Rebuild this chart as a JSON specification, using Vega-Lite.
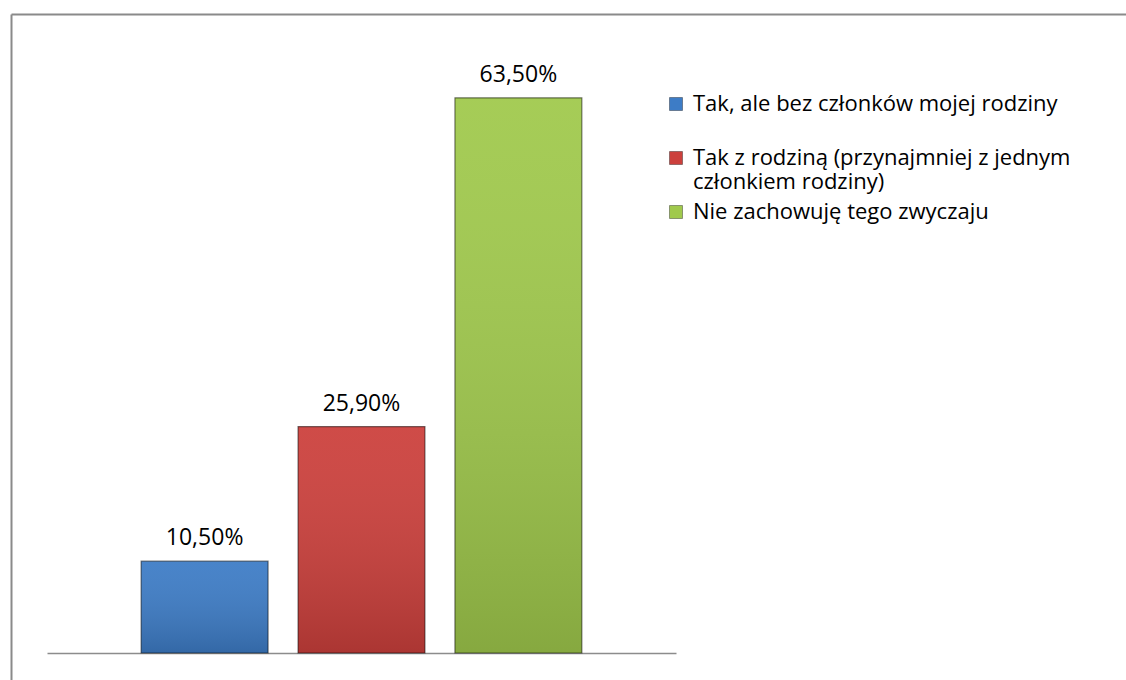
{
  "$schema": "https://vega.github.io/schema/vega-lite/v6.json",
  "width": 1115,
  "height": 666,
  "autosize": {"type": "none"},
  "padding": {"left": 11, "top": 14, "right": 0, "bottom": 0},
  "background": "white",
  "view": {"stroke": "transparent", "strokeWidth": 0, "fill": null},
  "config": {
    "view": {"stroke": "transparent", "strokeWidth": 0},
    "font": "Open Sans",
    "locale": {"number": {"decimal": ",", "thousands": " ", "grouping": [3], "currency": ["", " zł"]}}
  },
  "data": {
    "values": [
      {"odp": "Tak, ale bez członków mojej rodziny", "udzial": 0.105},
      {"odp": "Tak z rodziną (przynajmniej z jednym członkiem rodziny)", "udzial": 0.259},
      {"odp": "Nie zachowuję tego zwyczaju", "udzial": 0.635}
    ]
  },
  "resolve": {"scale": {"x": "independent", "y": "independent"}, "axis": {"x": "independent", "y": "independent"}},
  "layer": [
    {
      "encoding": {
        "x": {
          "field": "odp",
          "type": "nominal",
          "sort": null,
          "scale": {"range": [36, 665], "paddingInner": 0.191, "paddingOuter": 0.6},
          "axis": {"orient": "bottom", "labels": false, "ticks": false, "title": null, "grid": false, "domainColor": "#8c8c8c", "domainWidth": 1.5, "offset": -27}
        },
        "y": {
          "field": "udzial",
          "type": "quantitative",
          "scale": {"domain": [0, 0.7], "range": [639, 27]},
          "axis": null
        }
      },
      "layer": [
        {
          "mark": {"type": "bar"},
          "encoding": {
            "color": {
              "field": "odp",
              "type": "nominal",
              "sort": null,
              "scale": {"range": ["#3d7cc6", "#cc403c", "#a0c94c"]},
              "legend": {
                "title": null,
                "orient": "none",
                "legendX": 654,
                "legendY": 79,
                "padding": 0,
                "symbolType": "square",
                "symbolSize": 169,
                "symbolStrokeColor": "rgba(0,0,0,0.35)",
                "symbolStrokeWidth": 1,
                "labelFont": "Open Sans",
                "labelFontSize": 22,
                "labelColor": "black",
                "labelOffset": 6,
                "labelLimit": 600,
                "rowPadding": 8,
                "labelExpr": "datum.value == 'Tak z rodziną (przynajmniej z jednym członkiem rodziny)' ? ['Tak z rodziną (przynajmniej z jednym', 'członkiem rodziny)'] : datum.value == 'Tak, ale bez członków mojej rodziny' ? ['Tak, ale bez członków mojej rodziny', ' '] : datum.label"
              }
            }
          }
        },
        {
          "mark": {
            "type": "bar",
            "fill": {
              "gradient": "linear",
              "x1": 0, "y1": 0, "x2": 0, "y2": 1,
              "stops": [
                {"offset": 0, "color": "rgba(255,255,255,0.06)"},
                {"offset": 1, "color": "rgba(0,0,0,0.16)"}
              ]
            },
            "stroke": "rgba(0,0,0,0.5)",
            "strokeWidth": 1.2
          }
        },
        {
          "mark": {"type": "text", "baseline": "alphabetic", "dy": -16, "fontSize": 23, "font": "Open Sans", "color": "black"},
          "encoding": {
            "text": {"field": "udzial", "type": "quantitative", "format": ".2%"}
          }
        }
      ]
    },
    {
      "mark": {"type": "point", "opacity": 0},
      "encoding": {
        "x": {
          "field": "udzial",
          "type": "quantitative",
          "scale": {"domain": [0, 1]},
          "axis": {"orient": "top", "labels": false, "ticks": false, "grid": false, "title": null, "domainColor": "#8a8a8a", "domainWidth": 2}
        },
        "y": {
          "field": "udzial",
          "type": "quantitative",
          "scale": {"domain": [0, 1]},
          "axis": {"orient": "left", "labels": false, "ticks": false, "grid": false, "title": null, "domainColor": "#8a8a8a", "domainWidth": 2}
        }
      }
    }
  ]
}
